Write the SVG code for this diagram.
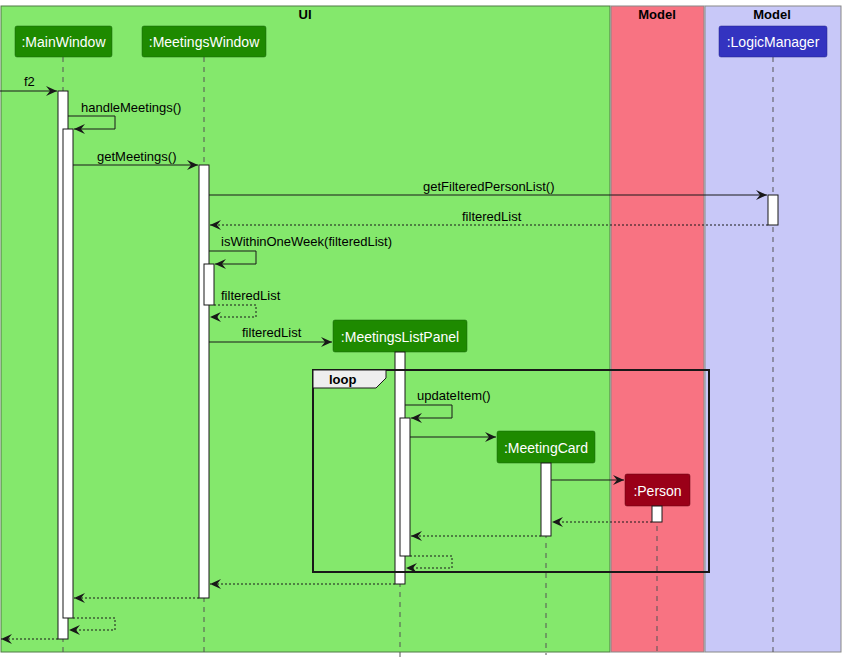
<svg xmlns="http://www.w3.org/2000/svg" width="846" height="663" viewBox="0 0 846 663">
<defs>
<style>
.lane-title{font-family:"Liberation Sans",Arial,sans-serif;font-size:13px;font-weight:bold;fill:#000;text-anchor:middle}
.ptext{font-family:"Liberation Sans",Arial,sans-serif;font-size:14px;fill:#fff;text-anchor:middle}
.msg{font-family:"Liberation Sans",Arial,sans-serif;font-size:13px;fill:#000}
.life{stroke:#555;stroke-width:1;stroke-dasharray:5,5;fill:none}
.act{fill:#fff;stroke:#181818;stroke-width:1}
.line{stroke:#181818;stroke-width:1;fill:none}
.ret{stroke:#181818;stroke-width:1;fill:none;stroke-dasharray:2,2}
</style>
<marker id="ah" viewBox="0 0 12 10" refX="11" refY="5" markerWidth="12" markerHeight="10" markerUnits="userSpaceOnUse" orient="auto">
<path d="M0,0 L11,5 L0,10 L4,5 Z" fill="#181818"/>
</marker>
</defs>
<rect width="846" height="663" fill="#fff"/>
<g id="lanes">
<rect x="1" y="6" width="609" height="646" fill="#84E86C" stroke="#4E7A44" stroke-width="1"/>
<rect x="611" y="6" width="93" height="646" fill="#F87382" stroke="#888" stroke-width="1"/>
<rect x="705" y="6" width="136" height="646" fill="#C8C8F8" stroke="#888" stroke-width="1"/>
<text class="lane-title" x="305" y="19">UI</text>
<text class="lane-title" x="657" y="19">Model</text>
<text class="lane-title" x="772" y="19">Model</text>
</g>
<g id="lifelines">
<line class="life" x1="63" y1="57" x2="63" y2="655"/>
<line class="life" x1="204" y1="57" x2="204" y2="655"/>
<line class="life" x1="773" y1="57" x2="773" y2="655"/>
<line class="life" x1="400" y1="352" x2="400" y2="657"/>
<line class="life" x1="546" y1="463" x2="546" y2="655"/>
<line class="life" x1="657" y1="506" x2="657" y2="655"/>
</g>
<g id="MainWindow">
<rect x="15" y="26" width="97" height="31" rx="2" fill="#1E8A00" stroke="#15600A" stroke-width="0.5"/>
<text class="ptext" x="63.5" y="47">:MainWindow</text>
</g>
<g id="MeetingsWindow">
<rect x="142" y="26" width="124" height="31" rx="2" fill="#1E8A00" stroke="#15600A" stroke-width="0.5"/>
<text class="ptext" x="204" y="47">:MeetingsWindow</text>
</g>
<g id="LogicManager">
<rect x="719" y="26" width="108" height="31" rx="2" fill="#3333C0" stroke="#22228A" stroke-width="0.5"/>
<text class="ptext" x="773" y="47">:LogicManager</text>
</g>
<g id="MeetingsListPanel">
<rect x="333" y="320" width="134" height="32" rx="2" fill="#1E8A00" stroke="#15600A" stroke-width="0.5"/>
<text class="ptext" x="400" y="342">:MeetingsListPanel</text>
</g>
<g id="MeetingCard">
<rect x="497" y="431" width="98" height="32" rx="2" fill="#1E8A00" stroke="#15600A" stroke-width="0.5"/>
<text class="ptext" x="546" y="453">:MeetingCard</text>
</g>
<g id="Person">
<rect x="625" y="474" width="65" height="32" rx="2" fill="#9A0018" stroke="#60000F" stroke-width="0.5"/>
<text class="ptext" x="657.5" y="496">:Person</text>
</g>
<g id="activations">
<rect class="act" x="58" y="91" width="10" height="548"/>
<rect class="act" x="63" y="129" width="10" height="489"/>
<rect class="act" x="199" y="165" width="10" height="433"/>
<rect class="act" x="204" y="264" width="10" height="41"/>
<rect class="act" x="768" y="195" width="10" height="30"/>
<rect class="act" x="395" y="352" width="10" height="232"/>
<rect class="act" x="400" y="418" width="10" height="138"/>
<rect class="act" x="541" y="463" width="10" height="73"/>
<rect class="act" x="652" y="506" width="10" height="16"/>
</g>
<g id="loop">
<rect x="313" y="370" width="396" height="202" fill="none" stroke="#181818" stroke-width="2"/>
<path d="M313,370 L386,370 L386,378 L376,388 L313,388 Z" fill="#EEEEEE" stroke="#181818" stroke-width="1"/>
<text class="msg" x="329" y="384" style="font-weight:bold">loop</text>
</g>
<g id="connectors">
<line class="line" x1="0" y1="91" x2="57" y2="91" marker-end="url(#ah)"/>
<text class="msg" x="24" y="86">f2</text>
<polyline class="line" points="68,116 115,116 115,129 74,129" marker-end="url(#ah)"/>
<text class="msg" x="81" y="112">handleMeetings()</text>
<line class="line" x1="73" y1="165" x2="198" y2="165" marker-end="url(#ah)"/>
<text class="msg" x="97" y="161">getMeetings()</text>
<line class="line" x1="209" y1="195" x2="767" y2="195" marker-end="url(#ah)"/>
<text class="msg" x="423" y="191">getFilteredPersonList()</text>
<line class="ret" x1="768" y1="225" x2="210" y2="225" marker-end="url(#ah)"/>
<text class="msg" x="462" y="221">filteredList</text>
<polyline class="line" points="209,251 256,251 256,264 215,264" marker-end="url(#ah)"/>
<text class="msg" x="221" y="246">isWithinOneWeek(filteredList)</text>
<polyline class="ret" points="214,305 256,305 256,317 210,317" marker-end="url(#ah)"/>
<text class="msg" x="221" y="300">filteredList</text>
<line class="line" x1="209" y1="342" x2="332" y2="342" marker-end="url(#ah)"/>
<text class="msg" x="242" y="337">filteredList</text>
<polyline class="line" points="405,405 452,405 452,418 411,418" marker-end="url(#ah)"/>
<text class="msg" x="417" y="400">updateItem()</text>
<line class="line" x1="410" y1="437" x2="496" y2="437" marker-end="url(#ah)"/>
<line class="line" x1="551" y1="480" x2="624" y2="480" marker-end="url(#ah)"/>
<line class="ret" x1="652" y1="522" x2="552" y2="522" marker-end="url(#ah)"/>
<line class="ret" x1="541" y1="536" x2="411" y2="536" marker-end="url(#ah)"/>
<polyline class="ret" points="410,556 452,556 452,568 406,568" marker-end="url(#ah)"/>
<line class="ret" x1="395" y1="584" x2="210" y2="584" marker-end="url(#ah)"/>
<line class="ret" x1="199" y1="598" x2="74" y2="598" marker-end="url(#ah)"/>
<polyline class="ret" points="73,618 115,618 115,630 69,630" marker-end="url(#ah)"/>
<line class="ret" x1="58" y1="639" x2="1" y2="639" marker-end="url(#ah)"/>
</g>
</svg>
